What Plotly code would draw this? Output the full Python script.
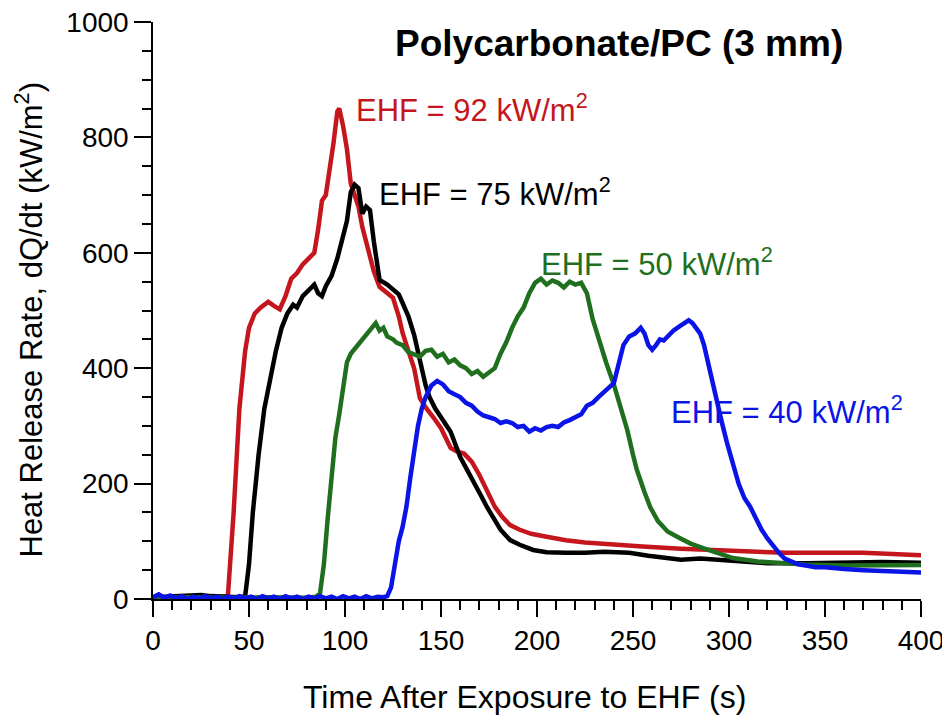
import plotly.graph_objects as go

# Données (temps en s, débit calorifique en kW/m2)

t_92 = [0, 5, 10, 15, 20, 25, 30, 35, 39, 42, 45, 48, 50, 53, 56, 60, 63, 66, 69, 72, 75, 78, 81, 84, 86,
        88, 90, 92, 94, 96, 97, 99, 101, 103, 105, 107, 109, 112, 115, 118, 122, 125, 128, 130, 133, 136,
        139, 142, 146, 150, 155, 158, 162, 166, 170, 174, 178, 182, 186, 191, 197, 205, 215, 225, 240, 255,
        275, 290, 300, 310, 330, 350, 370, 385, 400]
hrr_92 = [2, 3, 2, 4, 3, 5, 4, 3, 5, 150, 330, 430, 470, 495, 505, 515, 508, 502, 525, 555, 565, 580, 590, 600, 640,
          690, 700, 740, 790, 845, 850, 820, 780, 720, 700, 680, 645, 605, 568, 541, 530, 522, 490, 461, 430, 400,
          348, 332, 315, 296, 262, 256, 252, 238, 215, 189, 160, 142, 128, 120, 113, 108, 102, 98, 94, 91,
          87, 85, 85, 82, 80, 80, 80, 78, 76]

t_75 = [0, 10, 20, 25, 30, 35, 40, 45, 48, 50, 52, 55, 58, 61, 64, 67, 70, 73, 75, 78, 81, 84, 86, 88, 90,
        93, 96, 99, 101, 103, 105, 107, 109, 111, 113, 115, 118, 122, 125, 128, 130, 133, 136, 139, 142, 144,
        147, 150, 155, 160, 164, 167, 171, 174, 178, 181, 186, 191, 198, 205, 215, 225, 235, 248, 258, 265,
        275, 285, 300, 320, 340, 360, 380, 400]
hrr_75 = [3, 4, 5, 7, 5, 4, 3, 3, 5, 60, 150, 250, 330, 385, 430, 470, 495, 510, 505, 525, 535, 545, 530, 525, 542,
          560, 590, 630, 655, 705, 718, 712, 668, 680, 674, 620, 553, 545, 536, 528, 513, 490, 458, 414, 370, 350,
          330, 315, 290, 246, 220, 200, 178, 159, 135, 120, 102, 94, 85, 81, 80, 80, 82, 80, 75, 72,
          68, 70, 66, 62, 62, 63, 64, 63]

t_50 = [0, 20, 40, 60, 80, 85, 87, 89, 91, 93, 95, 97, 99, 101, 103, 106, 109, 112, 114, 116, 118, 120, 122,
        125, 127, 130, 133, 136, 139, 142, 145, 148, 151, 154, 157, 160, 163, 166, 169, 172, 175, 178, 181,
        184, 187, 190, 193, 196, 199, 202, 205, 208, 211, 214, 217, 220, 223, 226, 229, 233, 236, 240, 244,
        247, 250, 252, 256, 259, 263, 268, 273, 280, 285, 295, 302, 315, 328, 340, 360, 380, 400]
hrr_50 = [2, 3, 2, 3, 2, 4, 10, 60, 140, 220, 280, 320, 360, 410, 425, 437, 450, 462, 470, 478, 465, 470, 455,
          450, 444, 440, 428, 425, 420, 430, 432, 420, 425, 410, 415, 405, 400, 390, 395, 385, 392, 400, 425,
          445, 470, 490, 505, 530, 548, 555, 545, 552, 548, 540, 550, 545, 548, 530, 485, 440, 410, 372, 330,
          293, 250, 224, 185, 159, 135, 117, 108, 96, 90, 78, 71, 65, 62, 60, 58, 58, 59]

t_40 = [0, 3, 6, 9, 12, 15, 18, 21, 24, 27, 30, 33, 36, 39, 42, 45, 48, 51, 54, 57, 60, 63, 66, 69, 72, 75,
        78, 81, 84, 87, 90, 93, 96, 99, 102, 105, 108, 111, 114, 117, 120, 122, 124, 126, 128, 130, 132, 134,
        136, 138, 140, 142, 145, 148, 151, 154, 157, 160, 163, 166, 169, 172, 175, 178, 181, 184, 187, 190,
        193, 196, 199, 202, 205, 208, 211, 214, 217, 220, 223, 226, 229, 232, 235, 238, 240, 242, 245, 248,
        251, 254, 256, 258, 260, 262, 264, 266, 268, 271, 274, 277, 279, 281, 283, 285, 287, 289, 291, 293,
        296, 299, 302, 305, 308, 311, 314, 317, 320, 323, 326, 329, 332, 336, 340, 345, 350, 355, 360, 370,
        380, 390, 400]
hrr_40 = [3, 8, 2, 6, 1, 5, 0, 4, 1, 5, 1, 4, 0, 4, 1, 5, 1, 4, 0, 5, 1, 4, 0, 5, 1, 4,
          0, 4, 1, 5, 1, 4, 0, 5, 1, 4, 0, 5, 1, 4, 3, 5, 20, 60, 100, 125, 160, 210,
          260, 300, 330, 350, 370, 378, 372, 360, 355, 350, 340, 335, 325, 318, 315, 312, 305, 308, 305, 298,
          300, 290, 296, 292, 298, 300, 298, 306, 310, 315, 320, 335, 340, 350, 358, 368, 374, 400, 440, 455,
          460, 470, 460, 440, 432, 440, 450, 448, 455, 465, 472, 480, 483, 478, 470, 460, 440, 410, 380, 350,
          310, 270, 235, 200, 175, 160, 140, 120, 105, 92, 80, 70, 65, 60, 58, 55, 55, 53, 52, 50,
          49, 48, 46]

series = [
    (t_92, hrr_92, '#c4161c', 'EHF = 92 kW/m<sup>2</sup>', 104.5, 851),
    (t_75, hrr_75, '#000000', 'EHF = 75 kW/m<sup>2</sup>', 116.7, 705),
    (t_50, hrr_50, '#1f6f1f', 'EHF = 50 kW/m<sup>2</sup>', 201.0, 584),
    (t_40, hrr_40, '#0a14e6', 'EHF = 40 kW/m<sup>2</sup>', 268.8, 327),
]

police = "Liberation Sans, Arial, sans-serif"

fig = go.Figure()

for t, hrr, couleur, label, ax, ay in series:
    fig.add_trace(go.Scatter(x=t, y=hrr, mode='lines', line=dict(color=couleur, width=4.5),
                             name=label, showlegend=False))
    fig.add_annotation(x=ax, y=ay, text=label, showarrow=False, xanchor='left', yanchor='middle',
                       font=dict(family=police, size=31, color=couleur))

# Titre du graphique
fig.add_annotation(x=242.7, y=962, text="<b>Polycarbonate/PC (3 mm)</b>", showarrow=False,
                   xanchor='center', yanchor='middle', font=dict(family=police, size=37, color='black'))

# Titres des axes
fig.add_annotation(x=(524 - 153) / 768, y=-0.17, xref='paper', yref='paper',
                   text="Time After Exposure to EHF (s)", showarrow=False,
                   xanchor='center', yanchor='middle', font=dict(family=police, size=32, color='black'))
fig.add_annotation(x=-0.161, y=0.485, xref='paper', yref='paper', textangle=-90,
                   text="Heat Release Rate, dQ/dt (kW/m<sup>2</sup>)", showarrow=False,
                   xanchor='center', yanchor='middle', font=dict(family=police, size=31, color='black'))

fig.update_layout(
    width=950, height=723,
    margin=dict(l=145, r=37, t=14, b=132, autoexpand=False),
    plot_bgcolor='white', paper_bgcolor='white',
    font=dict(family=police, size=28, color='black'),
)

fig.update_xaxes(range=[0, 400], tickvals=list(range(0, 401, 50)), ticks='outside', ticklen=16,
                 tickwidth=2, tickcolor='black', showline=True, linecolor='black', linewidth=1.5,
                 showgrid=False, zeroline=False, automargin=False, ticklabeloverflow='allow',
                 minor=dict(dtick=10, ticks='outside', ticklen=9, tickwidth=1.5, tickcolor='black'))
fig.update_yaxes(range=[0, 1000], tickvals=list(range(0, 1001, 200)), ticks='outside', ticklen=17,
                 tickwidth=2, tickcolor='black', showline=True, linecolor='black', linewidth=1.5,
                 showgrid=False, zeroline=False, automargin=False, ticklabeloverflow='allow',
                 minor=dict(dtick=50, ticks='outside', ticklen=9, tickwidth=1.5, tickcolor='black'))

fig.write_html("out.html")
